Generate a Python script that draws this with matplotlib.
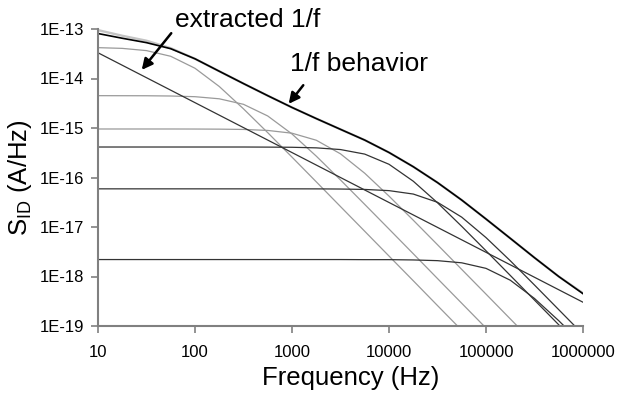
import matplotlib
matplotlib.use("Agg")
import matplotlib.pyplot as plt
from matplotlib.ticker import FixedLocator, FixedFormatter, NullLocator

plt.rcParams['font.family'] = ['Liberation Sans', 'DejaVu Sans']
plt.rcParams['mathtext.fontset'] = 'custom'
plt.rcParams['mathtext.rm'] = 'Liberation Sans'

# frequency grid (Hz), quarter decades
freq = [10, 17.8, 31.6, 56.2, 100, 178, 316, 562, 1000, 1780, 3160, 5620,
        10000, 17800, 31600, 56200, 100000, 178000, 316000, 562000, 1000000]

# measured spectrum (grey) and fitted total (black), A^2/Hz
measured = [9.5e-14, 7.3e-14, 5.8e-14, 4.1e-14, 2.5e-14, 1.4e-14, 7.9e-15, 4.5e-15,
            2.6e-15, 1.55e-15, 9.4e-16, 5.7e-16, 3.2e-16, 1.65e-16, 7.9e-17, 3.5e-17,
            1.45e-17, 5.9e-18, 2.4e-18, 1.0e-18, 4.6e-19]
total = [8.1e-14, 6.5e-14, 5.3e-14, 4.0e-14, 2.5e-14, 1.4e-14, 7.9e-15, 4.5e-15,
         2.6e-15, 1.55e-15, 9.4e-16, 5.7e-16, 3.2e-16, 1.65e-16, 7.9e-17, 3.5e-17,
         1.45e-17, 5.9e-18, 2.4e-18, 1.0e-18, 4.5e-19]

# Lorentzian components drawn in grey
lor_grey = [
    [4.20e-14, 4.06e-14, 3.66e-14, 2.81e-14, 1.61e-14, 6.89e-15, 2.44e-15, 8.05e-16,
     2.58e-16, 8.17e-17, 2.59e-17, 8.20e-18, 2.59e-18, 8.20e-19, 2.59e-19, 8.20e-20,
     2.59e-20, 8.2e-21, 2.6e-21, 8.2e-22, 2.6e-22],
    [4.50e-15, 4.49e-15, 4.48e-15, 4.43e-15, 4.29e-15, 3.89e-15, 3.01e-15, 1.75e-15,
     7.57e-16, 2.70e-16, 8.93e-17, 2.86e-17, 9.10e-18, 2.88e-18, 9.10e-19, 2.88e-19,
     9.10e-20, 2.88e-20, 9.1e-21, 2.9e-21, 9.1e-22],
    [9.55e-16, 9.55e-16, 9.55e-16, 9.55e-16, 9.53e-16, 9.48e-16, 9.35e-16, 8.93e-16,
     7.85e-16, 5.66e-16, 3.01e-16, 1.22e-16, 4.21e-17, 1.37e-17, 4.39e-18, 1.39e-18,
     4.41e-19, 1.39e-19, 4.41e-20, 1.39e-20, 4.41e-21],
]

# Lorentzian components drawn dark
lor_dark = [
    [4.13e-16, 4.13e-16, 4.13e-16, 4.13e-16, 4.13e-16, 4.13e-16, 4.13e-16, 4.11e-16,
     4.08e-16, 3.97e-16, 3.67e-16, 2.97e-16, 1.85e-16, 8.41e-17, 3.09e-17, 1.03e-17,
     3.31e-18, 1.05e-18, 3.34e-19, 1.06e-19, 3.34e-20],
    [5.90e-17, 5.90e-17, 5.90e-17, 5.90e-17, 5.90e-17, 5.90e-17, 5.90e-17, 5.90e-17,
     5.90e-17, 5.89e-17, 5.85e-17, 5.74e-17, 5.43e-17, 4.63e-17, 3.16e-17, 1.58e-17,
     6.11e-18, 2.08e-18, 6.73e-19, 2.14e-19, 6.79e-20],
    [2.20e-18, 2.20e-18, 2.20e-18, 2.20e-18, 2.20e-18, 2.20e-18, 2.20e-18, 2.20e-18,
     2.20e-18, 2.20e-18, 2.20e-18, 2.19e-18, 2.19e-18, 2.16e-18, 2.09e-18, 1.89e-18,
     1.46e-18, 8.41e-19, 3.60e-19, 1.28e-19, 4.23e-20],
]

# extracted 1/f line
f_1f = [10, 100, 1000, 10000, 100000, 1000000]
s_1f = [3.31e-14, 3.25e-15, 3.19e-16, 3.13e-17, 3.08e-18, 3.02e-19]

xticks = [10, 100, 1000, 10000, 100000, 1000000]
xlabels = ["10", "100", "1000", "10000", "100000", "1000000"]
yticks = [1e-19, 1e-18, 1e-17, 1e-16, 1e-15, 1e-14, 1e-13]
ylabels = ["1E-19", "1E-18", "1E-17", "1E-16", "1E-15", "1E-14", "1E-13"]

fig = plt.figure(figsize=(6.17, 4.01), dpi=100)
ax = fig.add_axes([98/617, 75/401, 485/617, 297/401])

for s in lor_grey:
    ax.plot(freq, s, color='#9a9a9a', lw=0.9)
for s in lor_dark:
    ax.plot(freq, s, color='#333333', lw=0.9)
ax.plot(f_1f, s_1f, color='#333333', lw=0.9)
ax.plot(freq, measured, color='#c4c4c4', lw=1.7)
ax.plot(freq, total, color='black', lw=1.2)

ax.set_xscale('log')
ax.set_yscale('log')
ax.set_xlim(10, 1e6)
ax.set_ylim(1e-19, 1e-13)

ax.xaxis.set_major_locator(FixedLocator(xticks))
ax.xaxis.set_major_formatter(FixedFormatter(xlabels))
ax.yaxis.set_major_locator(FixedLocator(yticks))
ax.yaxis.set_major_formatter(FixedFormatter(ylabels))
ax.xaxis.set_minor_locator(NullLocator())
ax.yaxis.set_minor_locator(NullLocator())

for side in ['top', 'right']:
    ax.spines[side].set_visible(False)
for side in ['left', 'bottom']:
    ax.spines[side].set_color('#808080')
    ax.spines[side].set_linewidth(1.5)
ax.tick_params(direction='out', length=5, width=1.2, color='#808080', labelsize=12)
ax.tick_params(axis='x', pad=9)
ax.tick_params(axis='y', pad=5)

ax.set_xlabel("Frequency (Hz)", fontsize=18.5, labelpad=4, x=0.52)
ax.set_ylabel(r"S$_{\mathrm{ID}}$ (A/Hz)", fontsize=18.5, labelpad=4)

# annotations
ax.text(0.159, 1.007, "extracted 1/f", transform=ax.transAxes, fontsize=19,
        va='baseline', ha='left', clip_on=False)
ax.annotate("", xy=(27.1, 1.35e-14), xytext=(59.3, 9.1e-14),
            arrowprops=dict(arrowstyle='-|>', color='black', lw=1.8, mutation_scale=16))
ax.text(0.396, 0.859, "1/f behavior", transform=ax.transAxes, fontsize=19,
        va='baseline', ha='left')
ax.annotate("", xy=(887, 2.78e-15), xytext=(1361, 8.1e-15),
            arrowprops=dict(arrowstyle='-|>', color='black', lw=1.8, mutation_scale=16))

fig.savefig("out.png", dpi=100)
